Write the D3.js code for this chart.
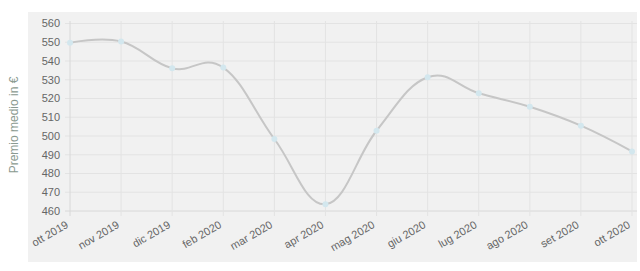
<!DOCTYPE html>
<html>
<head>
<meta charset="utf-8">
<script src="https://cdn.jsdelivr.net/npm/d3@7"></script>
<style>
  body { margin: 0; background: #fff; }
  text { font-family: "Liberation Sans", Arial, sans-serif; }
</style>
</head>
<body>
<div id="chart-area"></div>
<script>
// data
var months = ["ott 2019", "nov 2019", "dic 2019", "feb 2020", "mar 2020", "apr 2020",
  "mag 2020", "giu 2020", "lug 2020", "ago 2020", "set 2020", "ott 2020"];
var premio = [549.7, 550.4, 536.1, 536.5, 498.4, 463.6, 502.8, 531.3, 522.8, 515.6, 505.5, 491.8];
var yTicks = [460, 470, 480, 490, 500, 510, 520, 530, 540, 550, 560];

var width = 640, height = 271;

var svg = d3.select("#chart-area").append("svg")
  .attr("width", width)
  .attr("height", height);

// panel background
svg.append("rect")
  .attr("x", 28).attr("y", 12)
  .attr("width", 609).attr("height", 250)
  .attr("fill", "#f1f1f1");

// Scales
var x = d3.scalePoint().domain(months).range([70, 632]);
var y = d3.scaleLinear().domain([460, 560]).range([211, 23.5]);

// horizontal grid
svg.append("g").selectAll("line")
  .data(yTicks).enter().append("line")
  .attr("x1", 65).attr("x2", 637)
  .attr("y1", function(d) { return y(d); })
  .attr("y2", function(d) { return y(d); })
  .attr("stroke", function(d) { return d === 460 ? "#d8d8d8" : "#e3e3e3"; })
  .attr("stroke-width", 1);

// vertical grid
svg.append("g").selectAll("line")
  .data(months).enter().append("line")
  .attr("x1", function(d) { return x(d); })
  .attr("x2", function(d) { return x(d); })
  .attr("y1", 21).attr("y2", 216)
  .attr("stroke", function(d, i) { return i === 0 ? "#d8d8d8" : "#e3e3e3"; })
  .attr("stroke-width", 1);

// Y tick labels
svg.append("g").selectAll("text")
  .data(yTicks).enter().append("text")
  .attr("x", 60)
  .attr("y", function(d) { return y(d); })
  .attr("dy", "0.35em")
  .attr("text-anchor", "end")
  .attr("font-size", "11px")
  .attr("fill", "#666")
  .text(function(d) { return d; });

// X tick labels
svg.append("g").selectAll("text")
  .data(months).enter().append("text")
  .attr("transform", function(d) { return "translate(" + (x(d) - 1) + ",227) rotate(-30)"; })
  .attr("text-anchor", "end")
  .attr("font-size", "11px")
  .attr("fill", "#666")
  .text(function(d) { return d; });

// Y axis title
svg.append("text")
  .attr("transform", "translate(18,125) rotate(-90)")
  .attr("text-anchor", "middle")
  .attr("font-size", "12px")
  .attr("fill", "#8a9a90")
  .text("Premio medio in €");

// line
var line = d3.line()
  .x(function(d, i) { return x(months[i]); })
  .y(function(d) { return y(d); })
  .curve(d3.curveCardinal.tension(-0.2));

svg.append("path")
  .attr("d", line(premio))
  .attr("fill", "none")
  .attr("stroke", "#c6c6c6")
  .attr("stroke-width", 2);

// points
svg.append("g").selectAll("circle")
  .data(premio).enter().append("circle")
  .attr("cx", function(d, i) { return x(months[i]); })
  .attr("cy", function(d) { return y(d); })
  .attr("r", 3)
  .attr("fill", "#d3e7ee");
</script>
</body>
</html>
